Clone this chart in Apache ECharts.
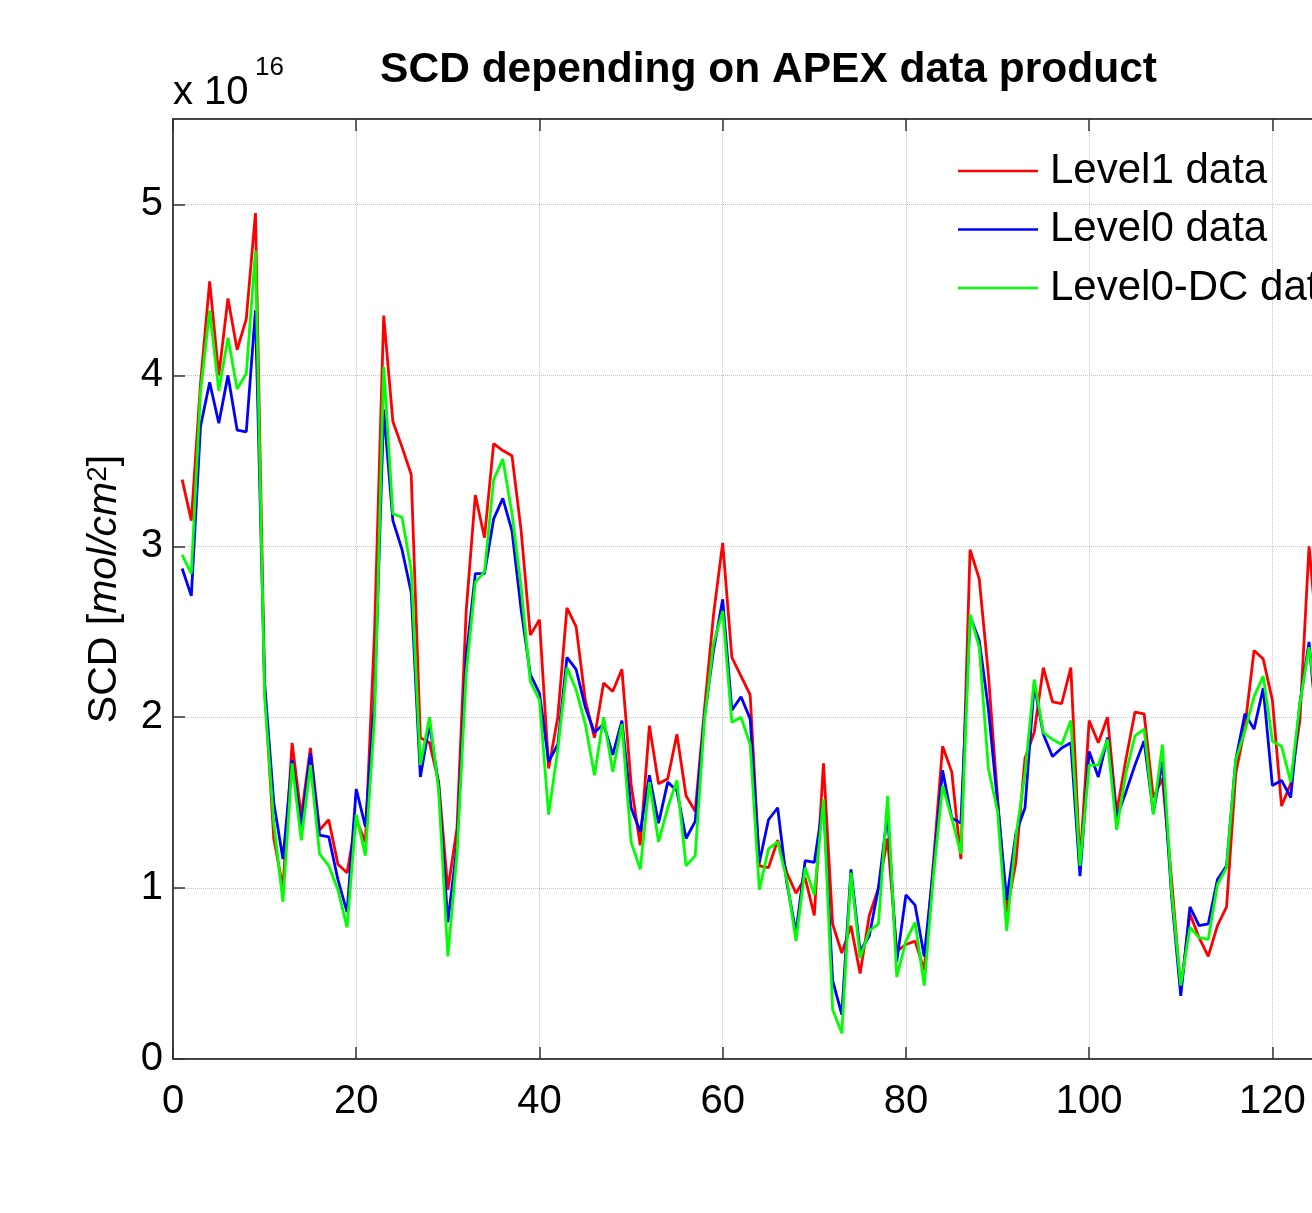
<!DOCTYPE html>
<html>
<head>
<meta charset="utf-8">
<title>SCD depending on APEX data product</title>
<script src="https://cdn.jsdelivr.net/npm/echarts@6/dist/echarts.min.js"></script>
<style>
    html, body { margin: 0; padding: 0; background: #fff; overflow: hidden; }
    #main { width: 1537px; height: 1213px; }
</style>
</head>
<body>
<div id="main"></div>
<script>
    // SCD values, unit 1e16 mol/cm2, for spectrum no. 1..125
    var level1 = [3.39, 3.15, 3.95, 4.55, 4.00, 4.45, 4.15, 4.33, 4.95, 2.17,
        1.29, 1.00, 1.85, 1.42, 1.82, 1.34, 1.40, 1.14, 1.09, 1.40,
        1.27, 2.50, 4.35, 3.73, 3.58, 3.42, 1.88, 1.85, 1.62, 0.99,
        1.35, 2.62, 3.30, 3.05, 3.60, 3.56, 3.53, 3.09, 2.48, 2.57,
        1.70, 2.00, 2.64, 2.53, 2.10, 1.88, 2.20, 2.15, 2.28, 1.61,
        1.25, 1.95, 1.61, 1.64, 1.90, 1.54, 1.45, 2.04, 2.60, 3.02,
        2.35, 2.24, 2.13, 1.13, 1.12, 1.28, 1.09, 0.97, 1.06, 0.84,
        1.73, 0.79, 0.62, 0.78, 0.50, 0.84, 1.00, 1.29, 0.63, 0.67,
        0.69, 0.52, 1.15, 1.83, 1.68, 1.17, 2.98, 2.81, 2.25, 1.53,
        0.86, 1.15, 1.76, 1.91, 2.29, 2.09, 2.08, 2.29, 1.14, 1.98,
        1.85, 2.00, 1.44, 1.75, 2.03, 2.02, 1.53, 1.64, 1.05, 0.40,
        0.85, 0.71, 0.60, 0.78, 0.89, 1.67, 1.94, 2.39, 2.34, 2.10,
        1.48, 1.61, 1.98, 3.00, 2.40];
    var level0 = [2.87, 2.71, 3.70, 3.96, 3.72, 4.00, 3.68, 3.67, 4.38, 2.20,
        1.50, 1.17, 1.75, 1.36, 1.79, 1.31, 1.30, 1.05, 0.86, 1.58,
        1.36, 2.10, 3.80, 3.15, 2.98, 2.73, 1.65, 1.96, 1.60, 0.80,
        1.25, 2.35, 2.84, 2.84, 3.16, 3.28, 3.09, 2.63, 2.25, 2.14,
        1.74, 1.84, 2.35, 2.28, 2.06, 1.91, 1.96, 1.78, 1.98, 1.47,
        1.33, 1.66, 1.38, 1.62, 1.57, 1.29, 1.39, 2.00, 2.39, 2.69,
        2.04, 2.12, 1.99, 1.15, 1.40, 1.47, 1.03, 0.74, 1.16, 1.15,
        1.51, 0.46, 0.26, 1.11, 0.63, 0.72, 1.00, 1.44, 0.57, 0.96,
        0.90, 0.60, 1.12, 1.69, 1.41, 1.38, 2.59, 2.45, 2.05, 1.50,
        0.93, 1.32, 1.47, 2.19, 1.90, 1.77, 1.82, 1.85, 1.07, 1.80,
        1.65, 1.88, 1.41, 1.56, 1.72, 1.86, 1.44, 1.74, 0.95, 0.37,
        0.89, 0.78, 0.79, 1.05, 1.13, 1.75, 2.02, 1.93, 2.17, 1.60,
        1.63, 1.53, 2.08, 2.44, 1.85];
    var level0dc = [2.95, 2.84, 3.90, 4.38, 3.91, 4.22, 3.92, 4.01, 4.73, 2.12,
        1.38, 0.92, 1.73, 1.28, 1.72, 1.20, 1.13, 0.99, 0.77, 1.43,
        1.19, 2.00, 4.05, 3.19, 3.17, 2.86, 1.72, 2.00, 1.57, 0.60,
        1.20, 2.25, 2.79, 2.85, 3.39, 3.51, 3.19, 2.76, 2.21, 2.10,
        1.43, 1.81, 2.29, 2.16, 1.96, 1.66, 2.00, 1.68, 1.96, 1.27,
        1.11, 1.62, 1.27, 1.47, 1.63, 1.13, 1.19, 1.98, 2.43, 2.62,
        1.97, 2.00, 1.84, 0.99, 1.23, 1.27, 1.05, 0.69, 1.12, 0.96,
        1.52, 0.29, 0.15, 1.09, 0.59, 0.75, 0.79, 1.54, 0.48, 0.69,
        0.80, 0.43, 1.07, 1.60, 1.41, 1.20, 2.60, 2.41, 1.70, 1.45,
        0.75, 1.30, 1.67, 2.22, 1.91, 1.87, 1.84, 1.98, 1.13, 1.72,
        1.72, 1.87, 1.34, 1.67, 1.89, 1.93, 1.43, 1.84, 0.98, 0.43,
        0.77, 0.71, 0.70, 1.02, 1.12, 1.75, 1.92, 2.12, 2.24, 1.86,
        1.83, 1.62, 2.08, 2.41, 2.00];
    var seriesNames = ['Level1 data', 'Level0 data', 'Level0-DC data'];
    var seriesColors = ['#ff0000', '#0000ff', '#00ff00'];

    var fontName = '"Liberation Sans", Arial, Helvetica, sans-serif';

    function toPoints(values) {
        // x = spectrum number, starting at 1
        return values.map(function (v, i) { return [i + 1, v]; });
    }

    var myChart = echarts.init(document.getElementById('main'), null, { renderer: 'canvas' });

    var axisColor = '#333333';
    var gridLine = { show: true, lineStyle: { color: '#c4c4c4', type: 'dotted', width: 1 } };

    function makeSeries(i, values) {
        return {
            name: seriesNames[i],
            type: 'line',
            symbol: 'none',
            color: seriesColors[i],
            lineStyle: { width: 2.8, color: seriesColors[i] },
            data: toPoints(values)
        };
    }

    var option = {
        animation: false,
        backgroundColor: '#ffffff',
        textStyle: { fontFamily: fontName },
        title: {
            text: 'SCD depending on APEX data product',
            left: 'center',
            top: 44,
            textStyle: { fontFamily: fontName, fontSize: 42.5, fontWeight: 'bold', color: '#000' }
        },
        graphic: [
            { type: 'text', left: 173, top: 73, style: { text: 'x 10', font: '40px ' + fontName, fill: '#000' } },
            { type: 'text', left: 255, top: 55, style: { text: '16', font: '26px ' + fontName, fill: '#000' } }
        ],
        legend: {
            data: seriesNames,
            orient: 'vertical',
            left: 958,
            top: 150,
            padding: 0,
            icon: 'rect',
            itemWidth: 80,
            itemHeight: 2.5,
            itemGap: 16.5,
            textStyle: { fontFamily: fontName, fontSize: 42, color: '#000', padding: [0, 0, 0, 7] }
        },
        grid: {
            left: 173,
            top: 119,
            width: 1191,
            height: 940,
            show: true,
            borderColor: axisColor,
            borderWidth: 1.5
        },
        xAxis: [
            {
                type: 'value',
                min: 0,
                max: 130,
                interval: 20,
                axisLine: { show: true, lineStyle: { color: axisColor, width: 1.5 } },
                axisTick: { show: true, inside: true, length: 12, lineStyle: { color: axisColor, width: 1.5 } },
                axisLabel: { fontSize: 40, color: '#000', margin: 23, showMaxLabel: false, fontFamily: fontName },
                splitLine: gridLine
            },
            {
                type: 'value',
                position: 'top',
                min: 0,
                max: 130,
                interval: 20,
                axisLine: { show: true, lineStyle: { color: axisColor, width: 1.5 } },
                axisTick: { show: true, inside: true, length: 12, lineStyle: { color: axisColor, width: 1.5 } },
                axisLabel: { show: false },
                splitLine: { show: false }
            }
        ],
        yAxis: [
            {
                type: 'value',
                min: 0,
                max: 5.5,
                interval: 1,
                axisLine: { show: true, lineStyle: { color: axisColor, width: 1.5 } },
                axisTick: { show: true, inside: true, length: 12, lineStyle: { color: axisColor, width: 1.5 } },
                axisLabel: { fontSize: 40, color: '#000', margin: 10, showMaxLabel: false, fontFamily: fontName },
                splitLine: gridLine,
                name: '{n|SCD [}{i|mol/cm}{s|2}{n|]}',
                nameLocation: 'middle',
                nameRotate: 90,
                nameGap: 48,
                nameTextStyle: {
                    rich: {
                        n: { fontSize: 41, fontFamily: fontName, color: '#000' },
                        i: { fontSize: 41, fontFamily: fontName, fontStyle: 'italic', color: '#000' },
                        s: { fontSize: 28, fontFamily: fontName, color: '#000', verticalAlign: 'top', padding: [0, 0, 8, 0] }
                    }
                }
            }
        ],
        series: [
            makeSeries(0, level1),
            makeSeries(1, level0),
            makeSeries(2, level0dc)
        ]
    };

    myChart.setOption(option);
</script>
</body>
</html>
